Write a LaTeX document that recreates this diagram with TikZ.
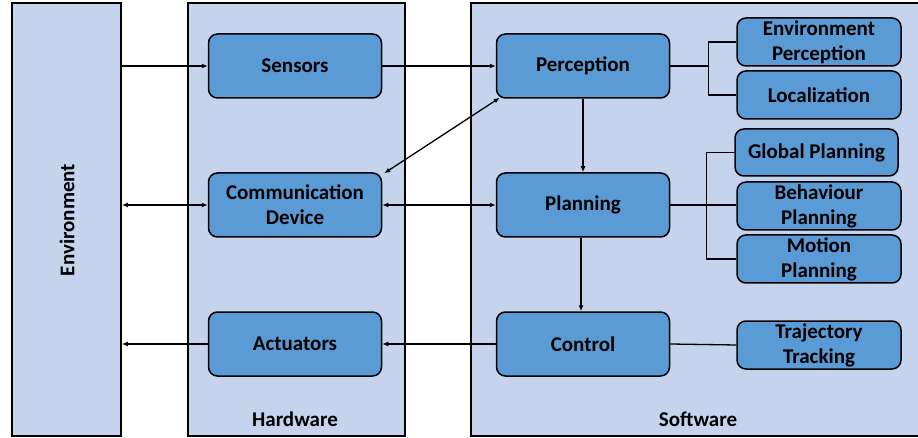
\documentclass[tikz,border=0pt]{standalone}
\usepackage{fontspec}
\setmainfont{Carlito}
\usetikzlibrary{arrows.meta}
\definecolor{boxbg}{RGB}{197,212,236}
\definecolor{unitbg}{RGB}{91,155,213}
\tikzset{
  blk/.style={draw=black, line width=1.8pt, fill=boxbg, inner sep=0pt},
  unit/.style={draw=black, line width=1.5pt, fill=unitbg, rounded corners=9pt, minimum width=173pt, minimum height=64pt, align=center, inner sep=0pt, font=\bfseries\fontsize{21}{25}\selectfont},
  sub/.style={unit, minimum width=164pt, minimum height=48pt},
  lbl/.style={font=\bfseries\fontsize{21}{25}\selectfont},
  link/.style={line width=1.3pt},
  arr/.style={link, -{Latex[length=6pt,width=5pt]}},
  darr/.style={link, {Latex[length=6pt,width=5pt]}-{Latex[length=6pt,width=5pt]}},
}
\begin{document}
\begin{tikzpicture}[x=1pt, y=-1pt]
	\useasboundingbox (0,0) rectangle (918,438);
	\clip (0,0) rectangle (918,438);
	\node[blk, minimum width=109pt, minimum height=433pt] (env) at (66.5,219.5) {};
	\node[lbl, rotate=90] (envtxt) at (67,220) {Environment};
	\node[blk, minimum width=217pt, minimum height=433pt] (hw) at (296.5,219.5) {};
	\node[blk, minimum width=460pt, minimum height=433pt] (sw) at (701,219.5) {};
	\node[lbl] (hwtxt) at (295,419) {Hardware};
	\node[lbl] (swtxt) at (698,419) {Software};

	\node[unit] (sens) at (295,66) {Sensors};
	\node[unit] (comm) at (295,205) {Communication\\Device};
	\node[unit] (act) at (295,344) {Actuators};
	\node[unit] (perc) at (583,66) {Perception};
	\node[unit] (plan) at (583,205) {Planning};
	\node[unit] (ctrl) at (583,344) {Control};

	\node[sub] (envp) at (819,42) {Environment\\Perception};
	\node[sub] (loc) at (819,95) {Localization};
	\node[sub, minimum width=163pt, minimum height=47pt] (glob) at (816.5,152.5) {Global Planning};
	\node[sub] (beh) at (819,206) {Behaviour\\Planning};
	\node[sub] (mot) at (819,259) {Motion\\Planning};
	\node[sub] (traj) at (819,345) {Trajectory\\Tracking};

	\draw[arr] (sens.west -| env.east) -- (sens.west);
	\draw[darr] (comm.west -| env.east) -- (comm.west);
	\draw[arr] (act.west) -- (act.west -| env.east);
	\draw[arr] (sens.east) -- (perc.west);
	\draw[darr] (comm.east) -- (plan.west);
	\draw[arr] (ctrl.west) -- (act.east);
	\draw[darr] ([shift={(4,-1)}]perc.south west) -- ([shift={(2,1)}]comm.north east);
	\draw[arr] (perc.south) -- (plan.north);
	\draw[arr] ([xshift=-2pt]plan.south) -- ([xshift=-2pt]ctrl.north);

	\draw[link] (perc.east) -- ++(38,0) |- (envp.west);
	\draw[link] (perc.east) -- ++(38,0) |- (loc.west);
	\draw[link] (plan.east) -- ++(36,0) |- (glob.west);
	\draw[link] (plan.east) -- (beh.west |- plan.east);
	\draw[link] (plan.east) -- ++(36,0) |- (mot.west);
	\draw[link] (ctrl.east) -- (traj.west);
\end{tikzpicture}
\end{document}
